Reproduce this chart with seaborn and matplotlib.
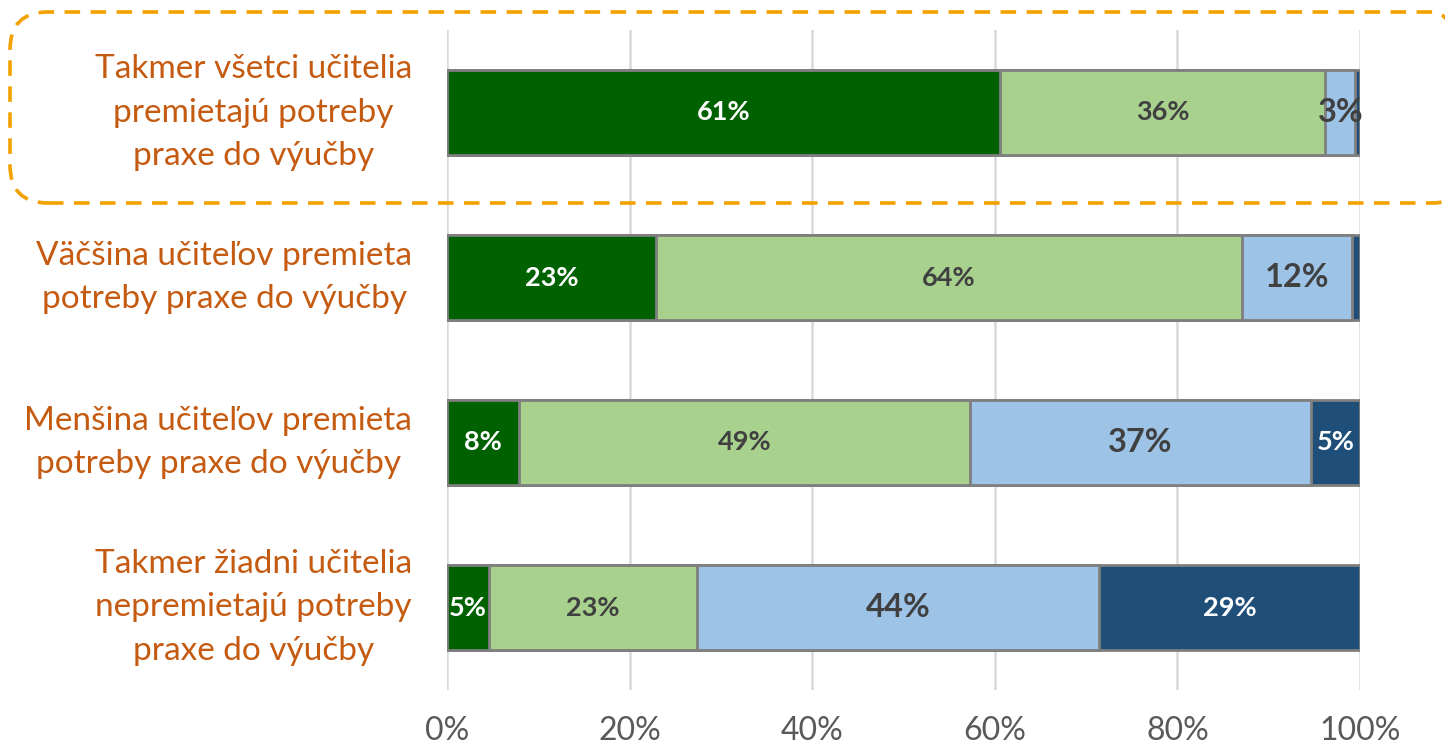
import matplotlib
matplotlib.use("Agg")
import matplotlib.pyplot as plt
from matplotlib.patches import FancyBboxPatch
from matplotlib.transforms import IdentityTransform
import seaborn as sns
import pandas as pd
import numpy as np

categories = [
    "Takmer všetci učitelia\npremietajú potreby\npraxe do výučby",
    "Väčšina učiteľov premieta\npotreby praxe do výučby",
    "Menšina učiteľov premieta\npotreby praxe do výučby",
    "Takmer žiadni učitelia\nnepremietajú potreby\npraxe do výučby",
]
seg1 = [60.6, 22.9, 7.9, 4.6]   # dark green
seg2 = [35.6, 64.2, 49.4, 22.8]  # light green
seg3 = [3.3, 12.0, 37.3, 44.0]   # light blue
seg4 = [0.5, 0.9, 5.4, 28.6]     # dark blue
x_ticks = [0, 20, 40, 60, 80, 100]
x_tick_labels = ["0%", "20%", "40%", "60%", "80%", "100%"]

colors = ["#006100", "#A9D18E", "#9DC3E6", "#1F4E79"]
text_colors = ["white", "#404040", "#404040", "white"]
text_sizes = [19.5, 19.5, 23.5, 19.5]

sns.set_style("white")
plt.rcParams["font.family"] = ["Lato", "DejaVu Sans"]

W, H = 1445, 752
fig = plt.figure(figsize=(W / 100, H / 100), dpi=100)
ax = fig.add_axes([447 / W, 1 - 690 / H, (1360 - 447) / W, 660 / H])

segments = [seg1, seg2, seg3, seg4]
cum = np.cumsum(np.array(segments), axis=0)
df = pd.DataFrame({"cat": categories})

# stacked bars: draw cumulative totals from the longest down
for k in reversed(range(4)):
    df["val"] = cum[k]
    sns.barplot(data=df, x="val", y="cat", orient="h", color=colors[k],
                saturation=1, width=0.52, edgecolor="#7F7F7F", linewidth=2,
                ax=ax, zorder=3)

for i in range(len(categories)):
    left = 0.0
    for k in range(4):
        v = segments[k][i]
        if v >= 1:
            ax.text(left + v / 2, i, f"{v:.0f}%", ha="center", va="center",
                    color=text_colors[k], fontsize=text_sizes[k],
                    fontweight="bold", zorder=5)
        left += v

ax.set_xlim(0, 100)
ax.set_ylim(3.5, -0.5)
ax.set_xticks(x_ticks)
ax.set_xticklabels(x_tick_labels, color="#595959", fontsize=23)
ax.tick_params(axis="x", length=0, pad=19)
ax.tick_params(axis="y", length=0, pad=25)
ax.set_yticks(range(len(categories)))
ax.set_yticklabels(categories, color="#C55A11", fontsize=24,
                   multialignment="center", linespacing=1.56)
for lab in ax.get_yticklabels():
    lab.set_verticalalignment("center")
ax.set_xlabel("")
ax.set_ylabel("")
ax.grid(axis="x", color="#D9D9D9", linewidth=1.8, zorder=0)
ax.set_axisbelow(True)
for s in ax.spines.values():
    s.set_visible(False)

box = FancyBboxPatch((10, H - 203), 1460, 191,
                     boxstyle="round,pad=0,rounding_size=38",
                     transform=IdentityTransform(), fill=False,
                     edgecolor="#F2A100", linewidth=2.6,
                     linestyle=(0, (4.3, 2.9)))
fig.add_artist(box)

fig.savefig("out.png", dpi=100)
